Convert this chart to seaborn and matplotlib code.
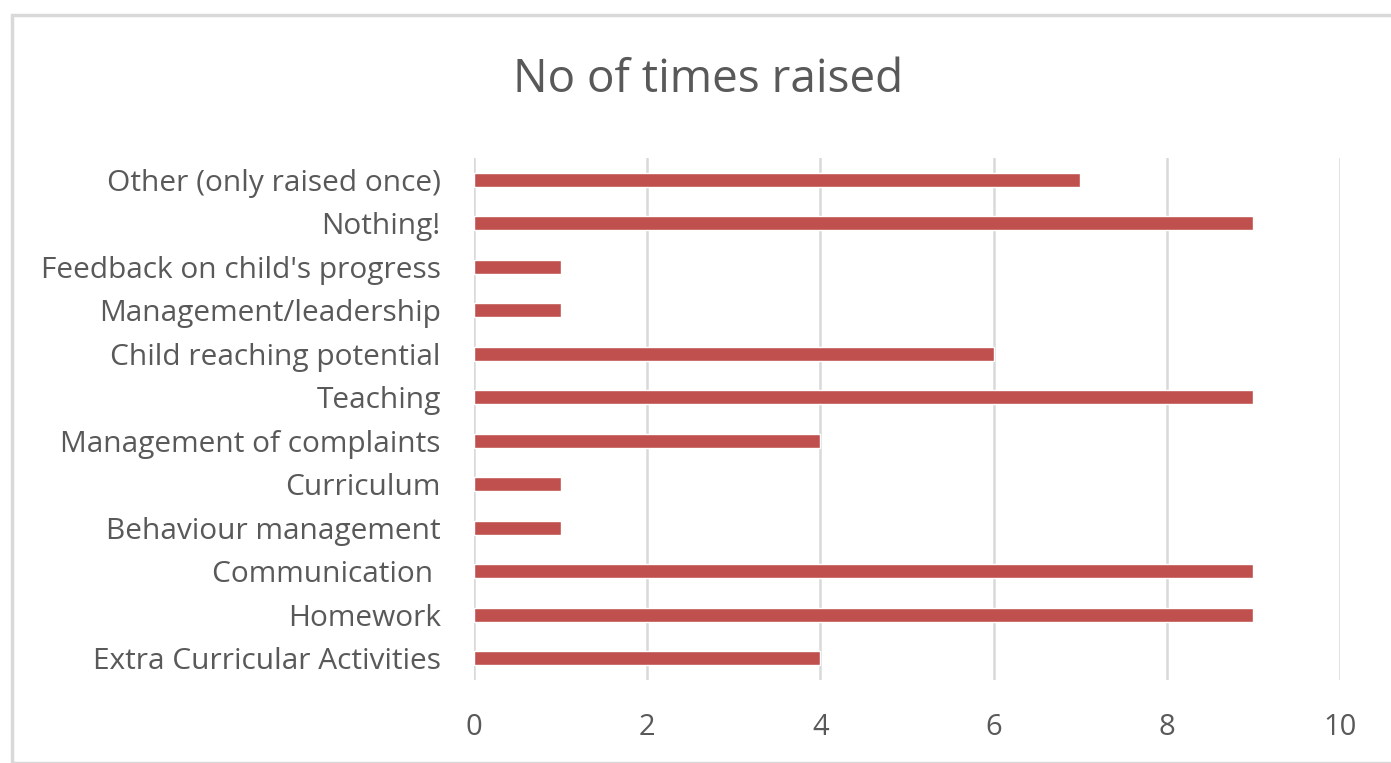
import pandas as pd
import seaborn as sns
import matplotlib.pyplot as plt
from matplotlib.patches import Rectangle

# Datos del gráfico
categories = ['Other (only raised once)', 'Nothing!', "Feedback on child's progress",
              'Management/leadership', 'Child reaching potential', 'Teaching',
              'Management of complaints', 'Curriculum', 'Behaviour management',
              'Communication ', 'Homework', 'Extra Curricular Activities']
times_raised = [7, 9, 1, 1, 6, 9, 4, 1, 1, 9, 9, 4]
x_ticks = [0, 2, 4, 6, 8, 10]

df = pd.DataFrame({'Category': categories, 'Times': times_raised})

sns.set_style('white')
plt.rcParams['font.family'] = ['Open Sans', 'DejaVu Sans']

text_color = '#595959'
grid_color = '#D9D9D9'

fig = plt.figure(figsize=(13.91, 7.63), dpi=100)
ax = fig.add_axes([474 / 1391, 1 - 680 / 763, (1340 - 474) / 1391, (680 - 158) / 763])

sns.barplot(data=df, x='Times', y='Category', color='#C0504D', width=0.32,
            saturation=1, ax=ax, zorder=3)

ax.set_xlim(0, 10)
ax.set_ylim(len(categories) - 0.5, -0.5)
ax.set_xticks(x_ticks)
ax.set_xticklabels([str(t) for t in x_ticks], fontsize=21, color=text_color)
ax.tick_params(axis='y', labelsize=21.5, labelcolor=text_color, length=0, pad=24)
ax.tick_params(axis='x', length=0, pad=24)
ax.grid(axis='x', color=grid_color, linewidth=1.8, zorder=0)
ax.set_axisbelow(True)
for side in ['top', 'right', 'bottom', 'left']:
    ax.spines[side].set_visible(False)
ax.set_xlabel('')
ax.set_ylabel('')

# Título
fig.text(708 / 1391, 1 - 80 / 763, 'No of times raised', fontsize=33,
         color=text_color, ha='center', va='center')

# Borde del área del gráfico
fig.patches.append(Rectangle((12 / 1391, 0), 1.0, 1 - 15 / 763,
                             transform=fig.transFigure, fill=False,
                             edgecolor=grid_color, linewidth=2.5))

fig.savefig('out.png', dpi=100, facecolor='white')
